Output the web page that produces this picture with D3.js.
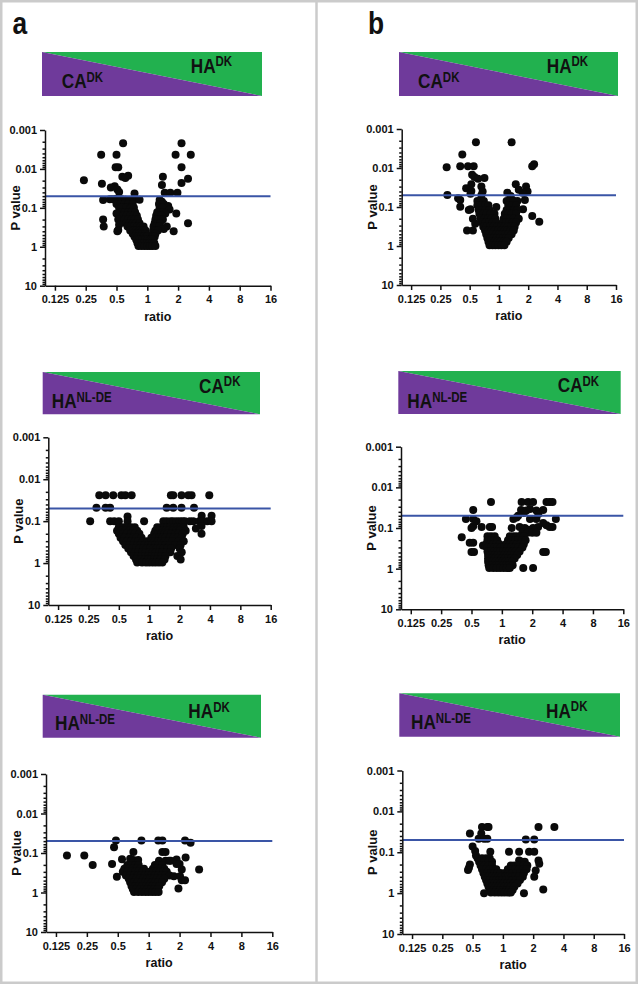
<!DOCTYPE html>
<html><head><meta charset="utf-8">
<script src="https://cdn.jsdelivr.net/npm/d3@7/dist/d3.min.js"></script>
<style>body{margin:0;background:#fff}svg{display:block}</style>
</head><body><svg id="c" width="638" height="984"></svg>
<script>
// ---------- data ----------
const xTickValues = [0.125,0.25,0.5,1,2,4,8,16];
const xTickLabels = ["0.125","0.25","0.5","1","2","4","8","16"];
const yTickValues = [0.001,0.01,0.1,1,10];
const yTickLabels = ["0.001","0.01","0.1","1","10"];
const yMinorTicks = [0.002,0.003,0.004,0.005,0.006,0.007,0.008,0.009,0.02,0.03,0.04,0.05,0.06,0.07,0.08,0.09,0.2,0.3,0.4,0.5,0.6,0.7,0.8,0.9,2,3,4,5,6,7,8,9];
const threshold = 0.05;
const xDomain = [0.1, 16];
const yDomain = [0.001, 10];
const panelLetters = ["a","b"];
const bannerLeft  = [["CA","DK"],["CA","DK"],["HA","NL-DE"],["HA","NL-DE"],["HA","NL-DE"],["HA","NL-DE"]];
const bannerRight = [["HA","DK"],["HA","DK"],["CA","DK"],["CA","DK"],["HA","DK"],["HA","DK"]];

// rows: [p value, [ratios...]]
const a1Rows = [
[0.0022,[0.58,2.16]],[0.0043,[0.354,0.50,1.89,2.66]],[0.009,[0.49,0.52,2.16]],[0.015,[0.65]],
[0.016,[0.57,1.42]],[0.017,[0.61]],[0.018,[2.5]],[0.0195,[0.24]],[0.023,[2.16]],[0.024,[0.36]],
[0.026,[1.39]],[0.028,[0.48]],[0.03,[0.44]],[0.034,[0.51]],[0.039,[0.53]],[0.041,[1.48,1.68,1.97]],
[0.043,[0.75]],[0.058,[0.5]],[0.06,[0.43,0.46,0.56,0.75]],[0.062,[0.61,0.84]],[0.063,[0.37,1.32]],
[0.064,[0.67]],[0.07,[1.39]],[0.08,[0.5,0.55,0.6,0.65,0.72,1.3,1.45]],[0.09,[1.6]],[0.095,[0.58]],
[0.1,[0.53,0.56,0.62,0.68,0.7,0.74,1.32,1.4]],[0.11,[1.65]],
[0.13,[0.55,0.6,0.65,0.7,0.76,1.25,1.35,1.42]],[0.14,[0.5,1.5,1.92]],
[0.16,[0.58,0.63,0.68,0.73,0.79,1.22,1.3,1.38]],
[0.2,[0.37,0.52,0.6,0.65,0.7,0.75,0.81,1.2,1.28,1.36,1.42]],
[0.25,[0.62,0.67,0.72,0.77,0.84,1.18,1.25,1.33,2.5]],[0.27,[0.53]],
[0.3,[0.375,0.64,0.69,0.74,0.8,0.86,0.92,1.15,1.22,1.3,1.55]],[0.35,[1.45]],[0.37,[0.52]],
[0.38,[0.68,0.73,0.78,0.84,0.9,0.96,1.14,1.2,1.27]],[0.4,[0.51,1.81]],
[0.46,[0.72,0.78,0.83,0.89,0.95,1.13,1.2]],[0.55,[0.75,0.8,0.86,0.92,0.98,1.12,1.18]],
[0.66,[0.78,0.83,0.89,0.95,1.01,1.07,1.13]],[0.8,[0.8,0.87,0.93,0.99,1.05,1.11,1.17]],
[0.95,[0.82,0.88,0.94,1.0,1.06,1.12,1.2]]
];
const b1Rows = [
[0.0022,[0.58,1.35]],[0.0045,[0.42]],[0.008,[2.3]],[0.009,[0.40,0.48,0.55,2.2]],[0.0096,[0.29]],
[0.015,[0.53]],[0.017,[0.56]],[0.018,[0.71]],[0.019,[0.61]],[0.026,[0.52,1.49]],[0.03,[0.66,1.9]],
[0.033,[0.46]],[0.036,[1.6]],[0.039,[0.52]],[0.04,[0.68,1.97]],[0.043,[1.22,1.75]],[0.046,[0.51]],
[0.049,[0.295]],[0.05,[0.66]],[0.052,[1.32]],[0.06,[0.38]],[0.066,[0.40,1.37,1.85]],
[0.07,[0.6,0.65,0.7,1.2,1.3,1.42,1.55]],[0.09,[0.6,0.66,0.72,0.78,1.25,1.36,1.5]],[0.098,[0.40]],
[0.1,[0.94]],[0.115,[0.51,1.77]],[0.12,[0.49,0.62,0.67,0.73,0.8,1.2,1.3,1.4,1.45,1.55]],
[0.15,[0.63,0.69,0.75,0.82,0.9,1.15,1.25,1.35,1.5]],[0.17,[2.2]],
[0.2,[0.54,0.65,0.71,0.77,0.84,0.92,1.12,1.2,1.3,1.42,1.6]],[0.24,[2.6]],
[0.25,[0.67,0.73,0.79,0.86,0.94,1.1,1.18,1.27,1.38,1.5]],[0.27,[0.57]],
[0.32,[0.69,0.75,0.81,0.88,0.96,1.05,1.14,1.23,1.33,1.45]],
[0.4,[0.47,0.54,0.72,0.78,0.84,0.9,0.98,1.06,1.14,1.22,1.32,1.42]],
[0.5,[0.74,0.8,0.86,0.93,1.0,1.08,1.16,1.25,1.35]],[0.62,[0.76,0.82,0.88,0.95,1.02,1.1,1.18,1.26]],
[0.78,[0.78,0.84,0.9,0.97,1.04,1.12,1.2]],[0.95,[0.8,0.86,0.92,0.99,1.06,1.14]]
];
const a2Rows = [
[0.024,[0.32,0.37,0.44,0.53,0.58,0.67,1.64,1.73,2.09,2.44,2.63,3.94]],
[0.048,[0.30,0.37,0.41,1.49,1.73,2.09,2.78]],[0.074,[3.31,4.15]],[0.077,[0.61]],
[0.1,[0.26,0.41,0.45,0.5,0.61,0.89,1.38,1.49,1.63,1.73,1.87,2.01,2.14,2.26,2.53,2.73,3.13,3.31,3.76,4.15]],
[0.13,[3.3]],[0.14,[0.5,0.55,0.6,0.66,0.72,1.2,1.3,1.4,1.5,1.6,1.75,1.9,2.05,2.2]],[0.15,[2.9]],
[0.17,[0.48,0.53,0.58,0.64,0.7,0.76,1.15,1.25,1.35,1.45,1.55,1.7,1.85,2.0,2.3]],
[0.2,[0.5,0.55,0.6,0.66,0.72,0.8,1.12,1.22,1.32,1.42,1.52,1.65,1.8,1.95,2.15,3.3]],
[0.25,[0.52,0.57,0.63,0.69,0.75,0.84,1.05,1.15,1.25,1.35,1.45,1.6,1.75,1.9,2.1]],
[0.3,[0.55,0.6,0.66,0.72,0.78,0.86,0.95,1.05,1.13,1.22,1.32,1.42,1.55,1.7,1.95,2.2]],
[0.37,[0.58,0.64,0.7,0.76,0.82,0.9,0.98,1.06,1.14,1.24,1.34,1.45,1.6,1.8,2.05]],
[0.45,[0.62,0.68,0.74,0.8,0.87,0.94,1.02,1.1,1.18,1.28,1.38,1.5,1.65,2.0]],
[0.55,[0.66,0.72,0.78,0.85,0.92,1.0,1.08,1.16,1.25,1.35,1.48,1.62,2.1]],
[0.68,[0.7,0.77,0.84,0.91,0.98,1.06,1.14,1.22,1.32,1.45,1.9]],
[0.82,[0.74,0.82,0.9,0.97,1.04,1.12,1.2,1.3,1.42,2.05]],
[0.97,[0.76,0.85,0.93,1.0,1.08,1.16,1.25,1.35]]
];
const b2Rows = [
[0.023,[0.78,1.57,1.82,2.04,2.77,2.98,3.18]],[0.034,[1.9]],[0.036,[0.52,1.55,2.57]],[0.037,[1.75,2.2]],
[0.043,[1.65]],[0.045,[2.3]],[0.05,[1.45]],[0.055,[1.4]],[0.06,[0.44,0.52,1.3,1.9,2.2,3.43]],[0.068,[0.56]],
[0.075,[2.57]],[0.085,[2.77]],[0.09,[0.52]],[0.095,[0.63,0.76,0.8,1.5,2.29,2.98,3.18]],
[0.1,[0.5,1.25,1.69,2.04]],[0.11,[1.82]],[0.13,[1.6,1.8,2.0,2.2]],
[0.16,[0.72,0.78,0.85,1.2,1.3,1.4,1.52,1.65]],[0.17,[0.4]],
[0.2,[0.72,0.78,0.84,0.9,1.15,1.25,1.35,1.45,1.58,1.72]],[0.23,[0.48,0.52]],
[0.25,[0.7,0.76,0.82,0.88,0.95,1.1,1.2,1.3,1.4,1.52,1.65]],[0.27,[0.65]],[0.28,[0.69]],
[0.3,[0.72,0.78,0.84,0.9,0.97,1.05,1.14,1.23,1.33,1.45,1.6]],
[0.38,[0.72,0.78,0.84,0.9,0.96,1.03,1.1,1.18,1.27,1.37,1.5]],[0.39,[0.5,0.53,2.57,2.73]],
[0.46,[0.73,0.79,0.85,0.91,0.98,1.06,1.14,1.22,1.32,1.42]],
[0.56,[0.73,0.79,0.85,0.92,0.99,1.07,1.15,1.24,1.34]],
[0.68,[0.73,0.8,0.87,0.94,1.01,1.09,1.17,1.26]],[0.82,[0.74,0.8,0.87,0.94,1.02,1.1,1.18,1.28]],
[0.97,[0.75,0.82,0.89,0.96,1.04,1.12,1.2,1.63,2.04]]
];
const a3Rows = [
[0.048,[0.48,0.85,1.24,1.36,2.26]],[0.055,[2.56]],[0.072,[0.46]],[0.094,[0.71,1.36,1.46]],
[0.116,[0.16,0.236]],[0.13,[2.29]],[0.14,[0.66]],[0.145,[0.55]],[0.146,[1.87]],[0.15,[0.71,0.79]],
[0.158,[1.26,1.46,1.58,1.64]],[0.19,[0.44,1.87,2.0]],[0.2,[0.285,0.62,0.68,0.74,0.8,1.15,1.25,1.35]],
[0.25,[0.58,0.64,0.7,0.76,0.83,0.9,1.1,1.2,1.3,1.42]],[0.26,[2.1,3.1]],
[0.3,[0.56,0.62,0.68,0.74,0.8,0.87,0.94,1.02,1.1,1.19,1.28,1.38,1.5]],
[0.37,[0.6,0.66,0.72,0.78,0.84,0.91,0.98,1.06,1.14,1.23,1.33,1.45,1.6]],[0.39,[1.76,2.02]],[0.4,[0.49]],
[0.45,[0.64,0.7,0.76,0.82,0.89,0.96,1.03,1.11,1.2,1.3,1.42]],[0.49,[2.1,2.26]],
[0.55,[0.66,0.72,0.78,0.85,0.92,0.99,1.07,1.15,1.24,1.35]],
[0.68,[0.68,0.74,0.8,0.87,0.94,1.01,1.09,1.17,1.27]],[0.79,[1.95]],
[0.82,[0.7,0.76,0.83,0.9,0.97,1.05,1.13,1.22]],[0.97,[0.72,0.79,0.86,0.93,1.0,1.08,1.16,1.25]]
];
const b3Rows = [
[0.024,[0.62,0.7,0.72,2.26,3.25]],[0.035,[0.47,0.61]],[0.047,[0.574,0.65,0.7]],[0.049,[1.69,2.05]],
[0.072,[0.5]],[0.093,[0.53]],[0.097,[0.75,1.15,1.45,1.82,2.05]],[0.12,[0.54]],
[0.14,[0.56,0.62,0.68,0.74]],[0.16,[1.45,2.26]],[0.17,[0.58,0.65,0.72,0.78,1.5,1.55,1.65]],
[0.19,[2.3]],[0.2,[0.47]],[0.21,[0.6,0.66,0.72,0.78,1.2,1.3,1.42,1.6,1.75]],[0.24,[0.46]],
[0.26,[0.62,0.68,0.74,0.8,0.86,1.12,1.22,1.32,1.44,1.58,1.72]],[0.27,[0.45]],[0.28,[2.12]],
[0.32,[0.64,0.7,0.76,0.82,0.88,0.95,1.05,1.14,1.24,1.35,1.48,1.62]],
[0.4,[0.66,0.72,0.78,0.84,0.9,0.97,1.05,1.13,1.22,1.32,1.44,1.58,2.05]],
[0.48,[0.68,0.74,0.8,0.86,0.92,0.99,1.07,1.15,1.24,1.35,1.48]],
[0.58,[0.7,0.76,0.82,0.88,0.95,1.02,1.1,1.18,1.28,1.4]],
[0.7,[0.72,0.78,0.84,0.9,0.97,1.04,1.12,1.2,1.3]],[0.81,[2.52]],
[0.84,[0.74,0.8,0.86,0.93,1.0,1.08,1.16,1.25]],[0.97,[0.76,0.83,0.9,0.97,1.04,1.12,1.2]],
[1.0,[0.65,1.62]]
];
const panelData = [a1Rows, b1Rows, a2Rows, b2Rows, a3Rows, b3Rows];

// ---------- layout ----------
const layout = [
 {ax:45,   x16:270.5, yTop:130,   yBot:285.7, bx0:42,    bx1:262,   by0:52,    by1:96,    lt:[61.7,88],   rt:[190.7,72.7]},
 {ax:401.7,x16:616,   yTop:129,   yBot:285,   bx0:399,   bx1:618,   by0:52,    by1:96,    lt:[418,88],    rt:[546.7,72.7]},
 {ax:48.3, x16:270.7, yTop:437.3, yBot:605,   bx0:42.7,  bx1:260,   by0:372,   by1:414.3, lt:[51.7,408.3],rt:[199,392.7]},
 {ax:401,  x16:623.3, yTop:446.7, yBot:609.3, bx0:398.3, bx1:620.7, by0:371,   by1:414,   lt:[407.3,408.3],rt:[557.7,392.3]},
 {ax:46,   x16:272.3, yTop:774,   yBot:932,   bx0:42.7,  bx1:261,   by0:694.7, by1:737.7, lt:[55,730],    rt:[188.3,718.3]},
 {ax:402.3,x16:624,   yTop:770.5, yBot:934,   bx0:399.3, bx1:620,   by0:693.3, by1:736.7, lt:[411,729],   rt:[546,717.7]}
];
const FONT = "'Liberation Sans', Arial, Helvetica, sans-serif";
const PURPLE = "#6f3a9b", GREEN = "#22b14f", BLUE = "#3a55a6", FRAME = "#cbcbcb";

const svg = d3.select("#c");
svg.append("rect").attr("x",0).attr("y",0).attr("width",638).attr("height",984).attr("fill","#fff");
// frame + divider
svg.append("rect").attr("x",1.25).attr("y",1.25).attr("width",635.5).attr("height",981.5)
   .attr("fill","none").attr("stroke",FRAME).attr("stroke-width",2.5);
svg.append("line").attr("x1",316.5).attr("x2",316.5).attr("y1",0).attr("y2",984)
   .attr("stroke",FRAME).attr("stroke-width",2.5);

// panel letters
[[12.5,34.3],[368,34.3]].forEach((pos,i)=>{
  svg.append("text").attr("transform",`translate(${pos[0]},${pos[1]}) scale(0.85,1)`)
   .attr("font-family",FONT).attr("font-weight","bold").attr("font-size",31).attr("fill","#111")
   .text(panelLetters[i]);
});

function labelText(g, pos, parts){
  const t = g.append("text").attr("transform",`translate(${pos[0]},${pos[1]}) scale(0.82,1)`)
    .attr("font-family",FONT).attr("font-weight","bold").attr("fill","#111");
  t.append("tspan").attr("font-size",21).text(parts[0]);
  t.append("tspan").attr("font-size",14).attr("dy",-6.5).text(parts[1]);
}

layout.forEach((L,i)=>{
  const g = svg.append("g");
  // banner
  g.append("polygon").attr("points",`${L.bx0},${L.by0} ${L.bx1},${L.by0} ${L.bx1},${L.by1}`).attr("fill",GREEN);
  g.append("polygon").attr("points",`${L.bx0},${L.by0} ${L.bx1},${L.by1} ${L.bx0},${L.by1}`).attr("fill",PURPLE);
  labelText(g, L.lt, bannerLeft[i]);
  labelText(g, L.rt, bannerRight[i]);

  const x = d3.scaleLog().domain(xDomain).range([L.ax, L.x16]);
  const y = d3.scaleLog().domain(yDomain).range([L.yTop, L.yBot]);

  const pts = panelData[i].flatMap(([p, rs]) => rs.map(r => ({r, p})));
  g.append("g").selectAll("circle").data(pts).join("circle")
    .attr("cx", d=>x(d.r)).attr("cy", d=>y(d.p)).attr("r",4).attr("fill","#0a0a0a");

  // threshold line
  g.append("line").attr("x1",x(xDomain[0])).attr("x2",x(xDomain[1]))
    .attr("y1",y(threshold)).attr("y2",y(threshold)).attr("stroke",BLUE).attr("stroke-width",2);

  // y axis
  const ya = g.append("g").attr("transform",`translate(${L.ax},0)`)
    .call(d3.axisLeft(y).tickValues(yTickValues).tickFormat((d,k)=>yTickLabels[k]).tickSize(5).tickSizeOuter(0).tickPadding(3));
  const ym = g.append("g").attr("transform",`translate(${L.ax},0)`)
    .call(d3.axisLeft(y).tickValues(yMinorTicks).tickFormat("").tickSize(2.5).tickSizeOuter(0));
  ym.select(".domain").remove();
  // x axis
  const xa = g.append("g").attr("transform",`translate(0,${L.yBot})`)
    .call(d3.axisBottom(x).tickValues(xTickValues).tickFormat((d,k)=>xTickLabels[k]).tickSize(5).tickSizeOuter(0).tickPadding(5));
  [ya,ym,xa].forEach(a=>{
    a.selectAll("path,line").attr("stroke","#111").attr("stroke-width",1.5);
    a.selectAll("text").attr("font-family",FONT).attr("font-weight","bold").attr("font-size",11).attr("fill","#111");
  });

  // axis titles
  g.append("text").attr("transform",`translate(${L.ax-25},${(L.yTop+L.yBot)/2}) rotate(-90)`)
    .attr("text-anchor","middle").attr("font-family",FONT).attr("font-weight","bold").attr("font-size",13)
    .attr("fill","#111").text("P value");
  g.append("text").attr("x",(L.ax+L.x16)/2).attr("y",L.yBot+35)
    .attr("text-anchor","middle").attr("font-family",FONT).attr("font-weight","bold").attr("font-size",12.5)
    .attr("fill","#111").text("ratio");
});
</script></body></html>
